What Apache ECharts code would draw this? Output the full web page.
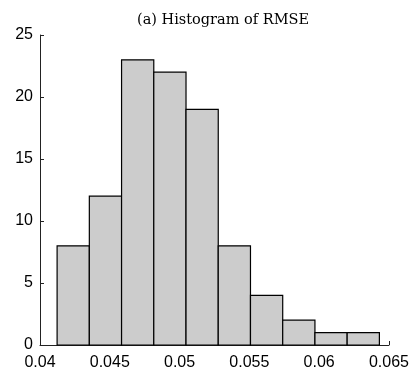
<!DOCTYPE html>
<html>
<head>
<meta charset="utf-8">
<script src="https://cdn.jsdelivr.net/npm/echarts@6/dist/echarts.min.js"></script>
<style>html,body{margin:0;padding:0;background:#fff}#c{width:412px;height:372px}</style>
</head>
<body>
<div id="c"></div>
<script>
var binEdges = [0.041225, 0.043534, 0.045843, 0.048151, 0.050460, 0.052769, 0.055078, 0.057387, 0.059696, 0.062004, 0.064313];
var counts = [8, 12, 23, 22, 19, 8, 4, 2, 1, 1];
var xTicks = [0.04, 0.045, 0.05, 0.055, 0.06, 0.065];
var yTicks = [0, 5, 10, 15, 20, 25];
var titleText = '(a) Histogram of RMSE';

var data = counts.map(function (c, i) { return [binEdges[i], binEdges[i + 1], c]; });
var chart = echarts.init(document.getElementById('c'), null, {renderer: 'canvas'});
chart.setOption({
  animation: false,
  title: {
    text: titleText, left: 218, top: 8, textAlign: 'center',
    textStyle: {fontFamily: 'DejaVu Serif', fontSize: 14.5, fontWeight: 'normal', color: '#000'}
  },
  grid: {left: 40, right: 19, top: 35, bottom: 27, containLabel: false},
  xAxis: {
    type: 'value', min: 0.04, max: 0.065, interval: 0.005,
    axisLine: {lineStyle: {color: '#222', width: 1}},
    axisTick: {inside: true, length: 4, lineStyle: {color: '#222'}},
    splitLine: {show: false},
    axisLabel: {
      fontFamily: 'Liberation Sans', fontSize: 16, color: '#000', margin: 10,
      formatter: function (v) { return String(parseFloat(v.toFixed(4))); }
    }
  },
  yAxis: {
    type: 'value', min: 0, max: 25, interval: 5,
    axisLine: {show: true, lineStyle: {color: '#222', width: 1}},
    axisTick: {show: true, inside: true, length: 4, lineStyle: {color: '#222'}},
    splitLine: {show: false},
    axisLabel: {fontFamily: 'Liberation Sans', fontSize: 16, color: '#000', margin: 7}
  },
  series: [{
    type: 'custom',
    data: data,
    encode: {x: [0, 1], y: 2},
    renderItem: function (params, api) {
      var p0 = api.coord([api.value(0), api.value(2)]);
      var p1 = api.coord([api.value(1), 0]);
      return {
        type: 'rect',
        shape: {x: p0[0], y: p0[1], width: p1[0] - p0[0], height: p1[1] - p0[1]},
        style: {fill: '#cccccc', stroke: '#000', lineWidth: 1.2}
      };
    }
  }]
});
</script>
</body>
</html>
